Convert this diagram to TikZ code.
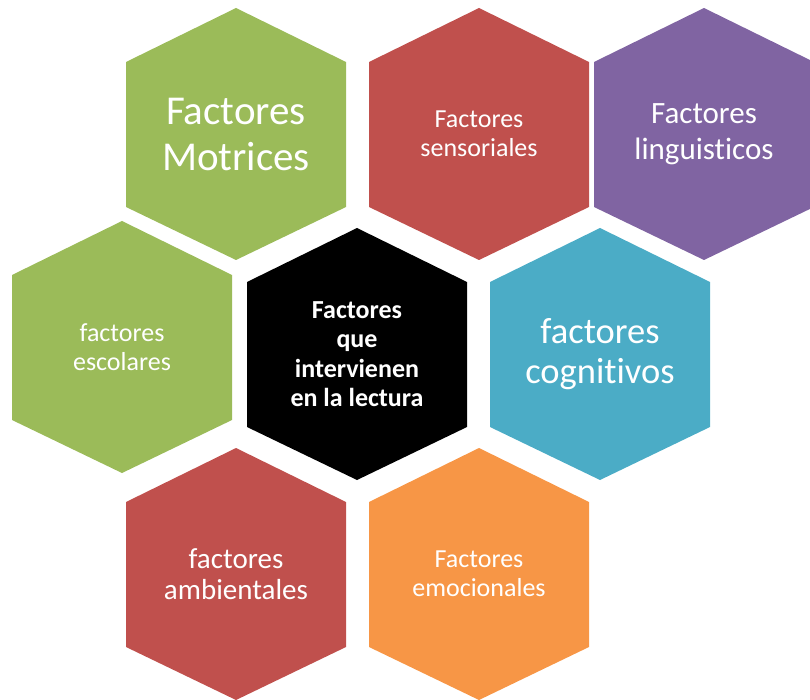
\documentclass[tikz,border=0pt]{standalone}
\usepackage{fontspec}
\setmainfont{Carlito}[Ligatures=NoCommon]
\usepackage{tikz}
\definecolor{chv}{HTML}{9BBB59}
\definecolor{chr}{HTML}{C0504D}
\definecolor{chp}{HTML}{8064A2}
\definecolor{chc}{HTML}{4BACC6}
\definecolor{cho}{HTML}{F79646}
\newcommand*{\hexa}[3]{\fill[#3](#1, #2)++(0, -126)--++(110, 54)--++(0, 145)--++(-110, 53)--++(-110, -53)--++(0, -145)--cycle;}
\newcommand*{\fsz}[2]{\fontsize{#1}{#2}\selectfont}
\tikzset{lbl/.style={text=white, align=center, inner sep=0pt}}

\begin{document}
\begin{tikzpicture}[x=1pt, y=-1pt]
    \useasboundingbox(0, 0)rectangle(810, 700);
    % top row
    \hexa{236}{134}{chv}
    \hexa{479}{134}{chr}
    \hexa{704}{134}{chp}
    \node[lbl, font=\fsz{41}{46}] (mot) at (236, 134) {Factores\\Motrices};
    \node[lbl, font=\fsz{26}{29}] (sen) at (479, 134) {Factores\\sensoriales};
    \node[lbl, font=\fsz{31}{36}] (lin) at (704, 134) {Factores\\linguisticos};
    % middle row
    \hexa{122}{347}{chv}
    \hexa{357}{354}{black}
    \hexa{600}{354}{chc}
    \node[lbl, font=\fsz{26}{29}] (esc) at (122, 347) {factores\\escolares};
    \node[lbl, font=\fsz{26}{29.5}\bfseries] (cen) at (357, 354) {Factores\\que\\intervienen\\en la lectura};
    \node[lbl, font=\fsz{36.5}{40}] (cog) at (600, 354) {factores\\cognitivos};
    % bottom row
    \hexa{236}{574}{chr}
    \hexa{479}{574}{cho}
    \node[lbl, font=\fsz{29}{31}] (amb) at (236, 574) {factores\\ambientales};
    \node[lbl, font=\fsz{26}{29}] (emo) at (479, 574) {Factores\\emocionales};
\end{tikzpicture}
\end{document}
